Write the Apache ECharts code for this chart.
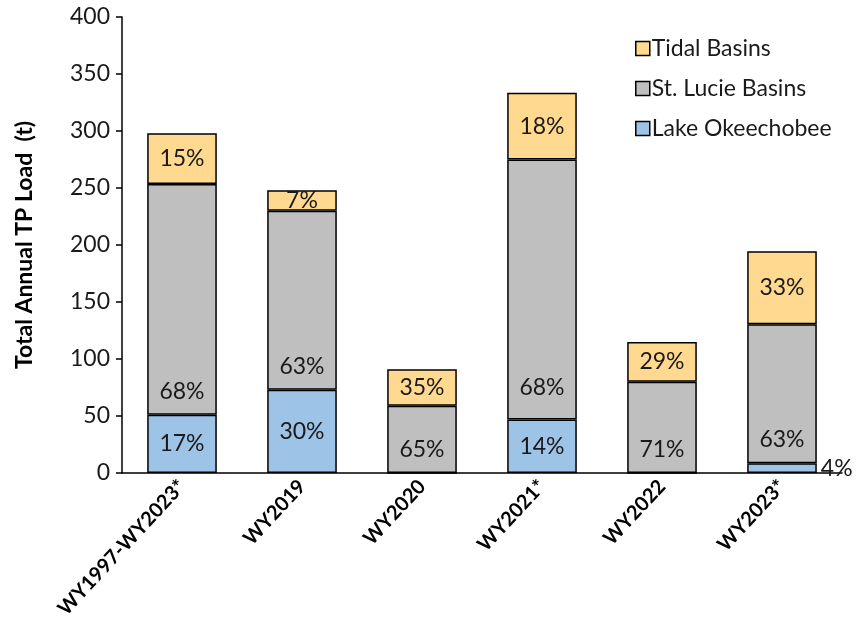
<!DOCTYPE html>
<html><head><meta charset="utf-8">
<script src="https://cdn.jsdelivr.net/npm/echarts@6/dist/echarts.min.js"></script>
<style>html,body{margin:0;padding:0;background:#fff}#c{width:856px;height:634px}</style>
</head><body><div id="c"></div>
<script>
const categories = ['WY1997-WY2023*','WY2019','WY2020','WY2021*','WY2022','WY2023*'];
const lakeValues = [51, 73, 0, 47, 0, 8.5];
const stLucieValues = [202.5, 157, 59, 228, 80, 122];
const tidalValues = [44.5, 18, 32, 58.5, 35, 64];
const lakeLabels = ['17%','30%','','14%','','4%'];
const stLucieLabels = ['68%','63%','65%','68%','71%','63%'];
const tidalLabels = ['15%','7%','35%','18%','29%','33%'];
const yTicks = [0,50,100,150,200,250,300,350,400];

const FONT = 'Lato, "Open Sans", sans-serif';
const border = {borderColor:'#000', borderWidth:1.5};
const lbl = {color:'#1a1a1a', fontSize:23, fontFamily:FONT};

const chart = echarts.init(document.getElementById('c'));
chart.setOption({
  animation:false,
  grid:{left:122, right:14, top:17, bottom:161},
  legend:{
    orient:'vertical', left:630, top:32, itemGap:17, icon:'rect',
    itemWidth:14, itemHeight:14,
    data:['Tidal Basins','St. Lucie Basins','Lake Okeechobee'],
    itemStyle:{borderColor:'#000', borderWidth:1.5},
    textStyle:{fontSize:23, color:'#1a1a1a', fontFamily:FONT, padding:[0,0,0,-3]},
  },
  xAxis:{
    type:'category', data:categories,
    axisLine:{lineStyle:{color:'#000', width:1.5}},
    axisTick:{alignWithLabel:true, length:6, lineStyle:{color:'#000', width:1.5}},
    axisLabel:{rotate:47, interval:0, fontSize:20, fontWeight:'bold', color:'#000', fontFamily:FONT, margin:10}
  },
  yAxis:{
    type:'value', min:yTicks[0], max:yTicks[yTicks.length-1], interval:50,
    name:'Total Annual TP Load  (t)', nameLocation:'middle', nameGap:86,
    nameTextStyle:{fontSize:23, fontWeight:'bold', color:'#000', fontFamily:FONT},
    axisLine:{show:true, lineStyle:{color:'#000', width:1.5}},
    axisTick:{show:true, length:6, lineStyle:{color:'#000', width:1.5}},
    splitLine:{show:false},
    axisLabel:{fontSize:23, color:'#1a1a1a', fontFamily:FONT, margin:12}
  },
  series:[
    {name:'Lake Okeechobee', type:'bar', stack:'a', barWidth:'58%',
     itemStyle:{color:'#9DC3E6', ...border},
     data:lakeValues.map((v,i)=>({value:v, label: i===5 ? {position:'right', distance:4} : {}})),
     label:{show:true, position:'inside', ...lbl, formatter:p=>lakeLabels[p.dataIndex]}},
    {name:'St. Lucie Basins', type:'bar', stack:'a',
     itemStyle:{color:'#BFBFBF', ...border},
     data:stLucieValues.map((v,i)=>({value:v, label: i===3 ? {distance:20} : {}})),
     label:{show:true, position:'insideBottom', distance:12, ...lbl, formatter:p=>stLucieLabels[p.dataIndex]}},
    {name:'Tidal Basins', type:'bar', stack:'a',
     itemStyle:{color:'#FFD98F', ...border},
     data:tidalValues,
     label:{show:true, position:'inside', ...lbl, formatter:p=>tidalLabels[p.dataIndex]}}
  ]
});
</script></body></html>
